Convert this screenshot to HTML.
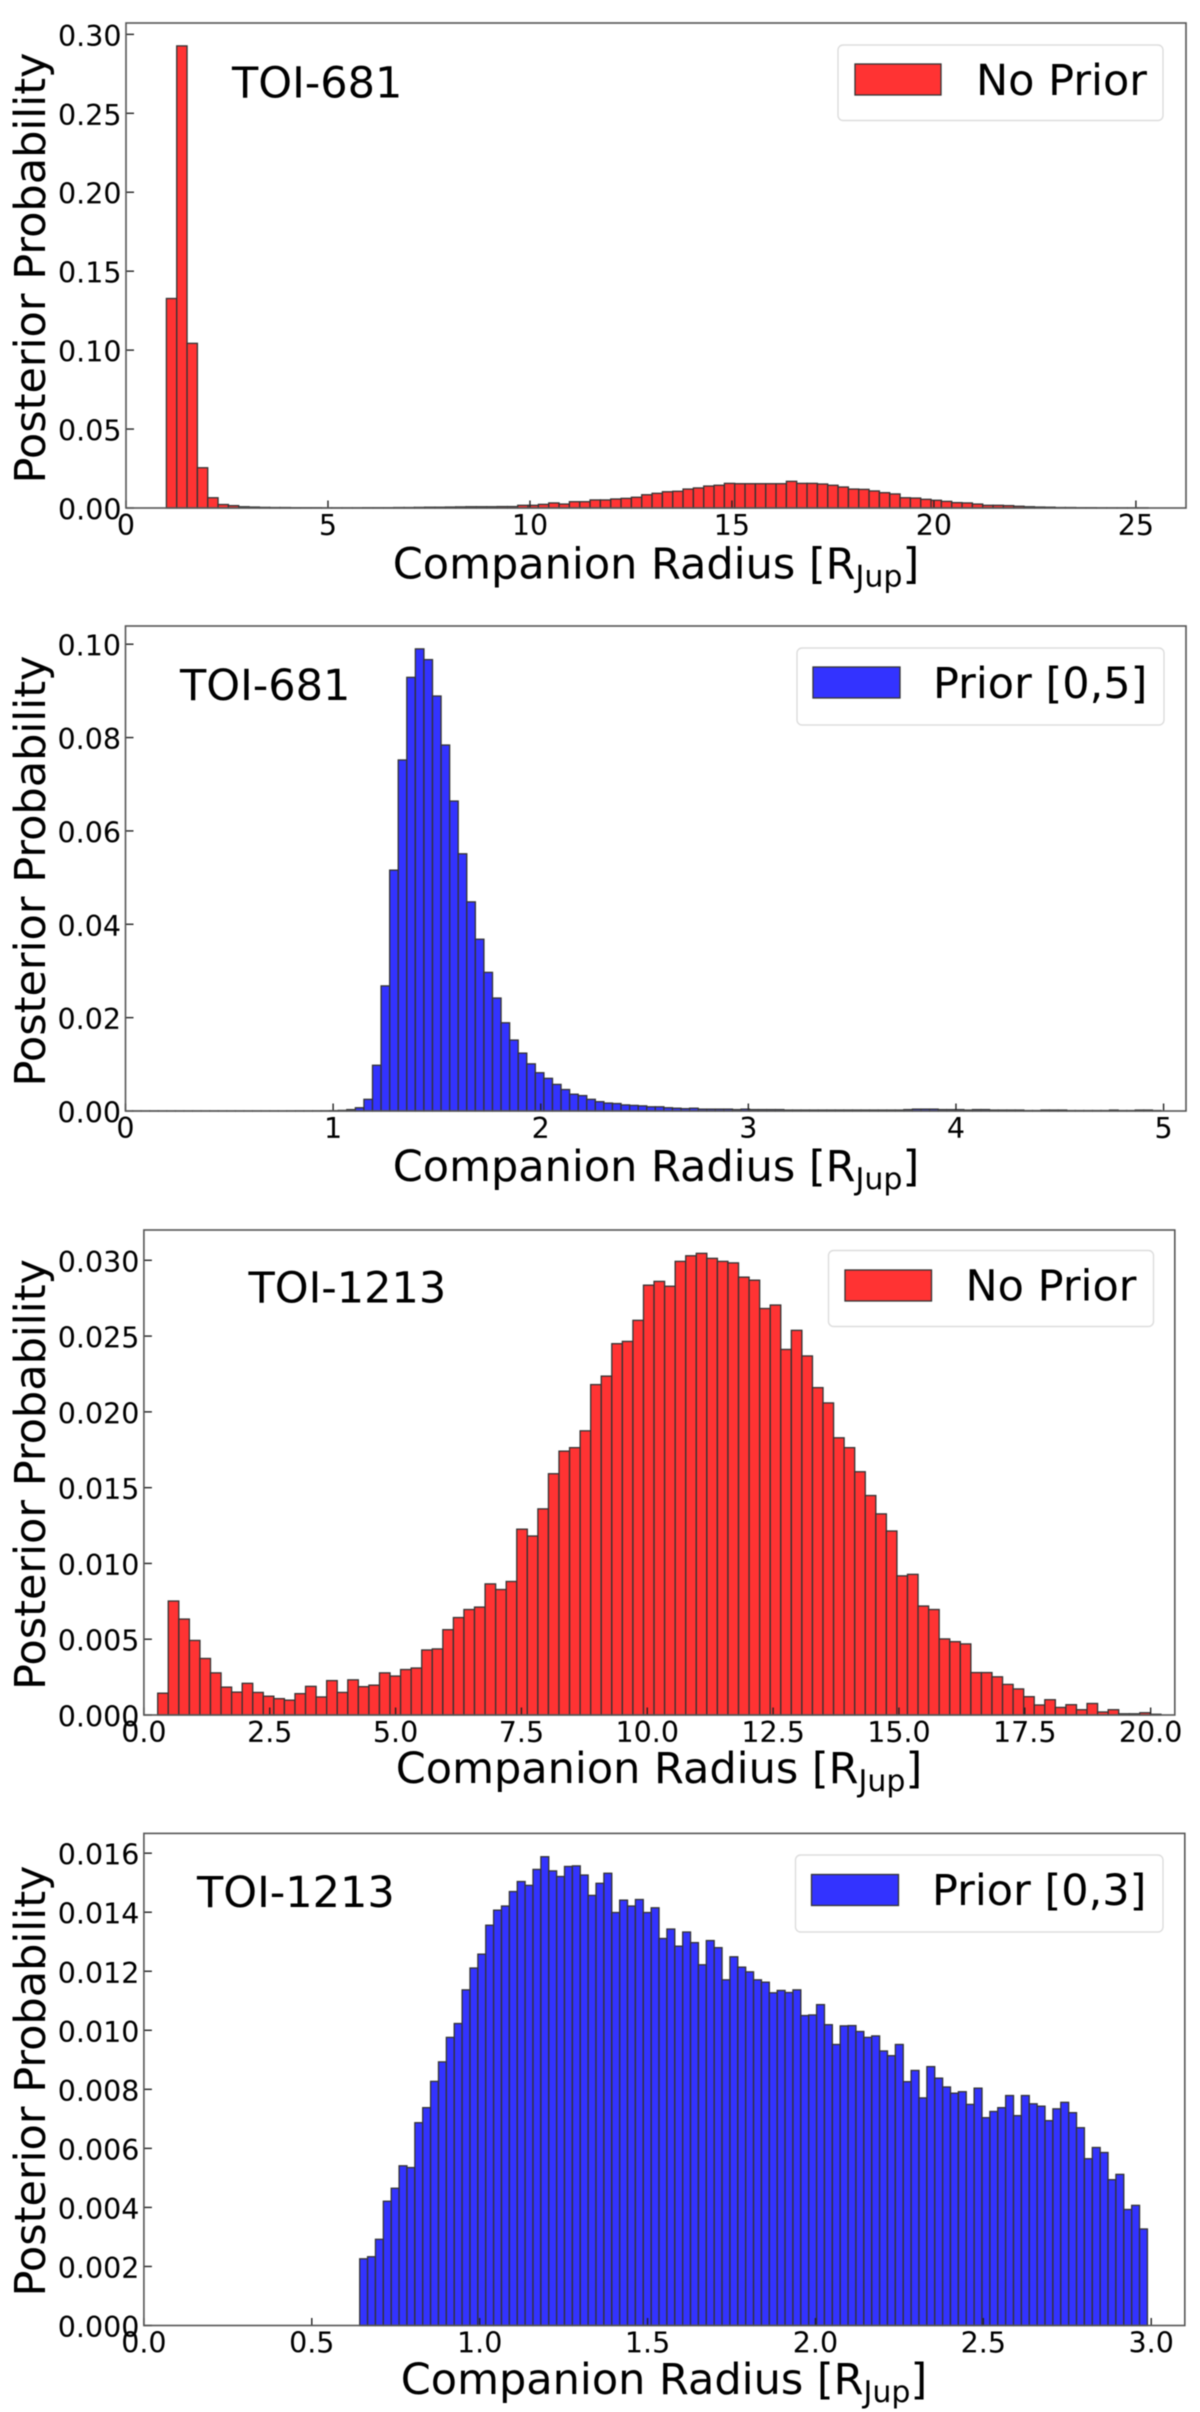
<!DOCTYPE html>
<html lang="en">
<head>
<meta charset="utf-8">
<title>Companion radius posterior probability histograms</title>
<style>
  html, body { margin: 0; padding: 0; background: #fff; }
  #figure { display: block; width: 1200px; height: 2412px; filter: blur(0.6px); }
  text { font-family: "DejaVu Sans", "Liberation Sans", sans-serif; fill: #000; }
  .tick-label { font-size: 28.5px; }
  .axis-title, .annotation, .legend-label { font-size: 43px; }
  .spine { fill: none; stroke: #555; stroke-width: 1.6; }
  .tick { stroke: #222; stroke-width: 1.4; }
  .legend-box { fill: #fff; fill-opacity: .8; stroke: #ddd; stroke-width: 1.4; }
  .legend-patch { stroke: #333; stroke-width: 1.3; }
</style>
</head>
<body>
<svg id="figure" xmlns="http://www.w3.org/2000/svg" width="1200" height="2412" viewBox="0 0 1200 2412">
  <rect width="1200" height="2412" fill="#fff"/>

  <g id="panel-1">
    <g class="marks"></g>
    <text class="annotation" x="232" y="97.5">TOI-681</text>
    <g>
      <rect class="legend-box" x="838" y="45" width="325" height="75.5" rx="5"/>
      <rect class="legend-patch" x="855" y="64" width="86" height="31" fill="#ff3333"/>
      <text class="legend-label" x="976" y="95">No Prior</text>
    </g>
    <text class="axis-title" x="656" y="578.5" text-anchor="middle">Companion Radius [R<tspan font-size="30" dy="8">Jup</tspan><tspan dy="-8">]</tspan></text>
    <text class="axis-title" transform="translate(45 268) rotate(-90)" text-anchor="middle">Posterior Probability</text>
  </g>

  <g id="panel-2">
    <g class="marks"></g>
    <text class="annotation" x="180" y="700">TOI-681</text>
    <g>
      <rect class="legend-box" x="797" y="648" width="367" height="77" rx="5"/>
      <rect class="legend-patch" x="813" y="667" width="87" height="31" fill="#3333ff"/>
      <text class="legend-label" x="933" y="698">Prior [0,5]</text>
    </g>
    <text class="axis-title" x="656" y="1181" text-anchor="middle">Companion Radius [R<tspan font-size="30" dy="8">Jup</tspan><tspan dy="-8">]</tspan></text>
    <text class="axis-title" transform="translate(45 871) rotate(-90)" text-anchor="middle">Posterior Probability</text>
  </g>

  <g id="panel-3">
    <g class="marks"></g>
    <text class="annotation" x="248.5" y="1302.5">TOI-1213</text>
    <g>
      <rect class="legend-box" x="828.5" y="1250.5" width="325" height="76" rx="5"/>
      <rect class="legend-patch" x="845" y="1270" width="86.5" height="31" fill="#ff3333"/>
      <text class="legend-label" x="965.5" y="1300.5">No Prior</text>
    </g>
    <text class="axis-title" x="659" y="1783" text-anchor="middle">Companion Radius [R<tspan font-size="30" dy="8">Jup</tspan><tspan dy="-8">]</tspan></text>
    <text class="axis-title" transform="translate(45 1474.5) rotate(-90)" text-anchor="middle">Posterior Probability</text>
  </g>

  <g id="panel-4">
    <g class="marks"></g>
    <text class="annotation" x="197" y="1907">TOI-1213</text>
    <g>
      <rect class="legend-box" x="795.5" y="1855" width="367.5" height="77" rx="5"/>
      <rect class="legend-patch" x="811.5" y="1874.5" width="87" height="31" fill="#3333ff"/>
      <text class="legend-label" x="932" y="1905">Prior [0,3]</text>
    </g>
    <text class="axis-title" x="664" y="2394" text-anchor="middle">Companion Radius [R<tspan font-size="30" dy="8">Jup</tspan><tspan dy="-8">]</tspan></text>
    <text class="axis-title" transform="translate(45 2081) rotate(-90)" text-anchor="middle">Posterior Probability</text>
  </g>
</svg>

<script>
// ---------- Data: panel 1 (TOI-681, no prior) ----------
const panel1BinStart = 1.0;
const panel1BinWidth = 0.2558;
const panel1Values = [
  .1327,.2927,.1043,.0255,.0065,.0022,.0015,.0008,.0006,.0004,
  .0003,.0003,.0002,.0002,.0002,.0001,.0001,.0001,.0001,.0002,.0002,.0002,
  .0003,.0003,.0004,.0005,.0005,.0006,.0007,.0008,.0008,.0008,.0009,.0009,
  .0017,.0017,.0023,.0032,.0025,.0040,.0040,.0051,.0051,.0057,.0061,.0068,
  .0084,.0093,.0103,.0106,.0120,.0127,.0139,.0144,.0156,.0154,.0154,.0154,.0154,.0154,
  .0169,.0156,.0156,.0152,.0144,.0133,.0120,.0118,.0108,.0097,.0089,.0065,.0063,.0055,
  .0049,.0042,.0034,.0032,.0025,.0017,.0017,.0015,.0011,.0008,.0006,.0005,.0003,.0003,
  .0002,.0002,.0001,.0001,.0001,.0001,.0001
];
const panel1XTicks = ['0','5','10','15','20','25'];
const panel1YTicks = ['0.00','0.05','0.10','0.15','0.20','0.25','0.30'];

// ---------- Data: panel 2 (TOI-681, prior [0,5]) ----------
const panel2BinStart = 0.0339;
const panel2BinWidth = 0.04128;
const panel2Values = [
  .00001,.00001,.00001,.00001,.00001,.00001,.00001,.00001,.00001,
  .00001,.00001,.00001,.00001,.00001,.00001,.00001,.00001,.00001,
  .00002,.00003,.00003,.00004,.00005,.00008,.00013,.0003,.0007,
  .0025,.0098,.0268,.0516,.0752,.0929,.0990,.0967,.0889,.0784,.0664,.0551,.0448,.0368,
  .0297,.0242,.0189,.0152,.0124,.0101,.0082,.0070,.0057,.0046,.0036,.0033,.0025,.0020,
  .0017,.0016,.0013,.0012,.0011,.0009,.0009,.0007,.0006,.0005,.0006,.0004,
  .0004,.0004,.0004,.0003,.0004,.0003,.0003,.0003,.0003,.0002,
  .0002,.0002,.0002,.0002,.0002,.0002,.0002,.0002,.0002,.0002,
  .0002,.0002,.0002,.0003,.0004,.0004,.0004,.0003,.0003,.0003,.0002,
  .0003,.0003,.0002,.0002,.0002,.0002,.0001,.0001,.0002,.0002,.0002,
  .0001,.0001,.0001,.0001,.0001,.0002,.0001,.0001,.0002,.0002,.0001
];
const panel2XTicks = ['0','1','2','3','4','5'];
const panel2YTicks = ['0.00','0.02','0.04','0.06','0.08','0.10'];

// ---------- Data: panel 3 (TOI-1213, no prior) ----------
const panel3BinStart = 0.274;
const panel3BinWidth = 0.2098;
const panel3Values = [
  .00144,.00752,.00633,.00492,.00373,.00278,.00184,.00151,.00209,.00149,
  .00124,.00108,.00098,.00141,.00189,.00119,.00227,.00149,.00232,.00187,
  .00197,.00278,.00257,.00300,.00310,.00429,.00436,.00563,.00643,.00696,
  .00712,.00865,.00828,.00881,.01226,.01181,.01360,.01592,.01741,.01764,
  .01875,.02180,.02236,.02450,.02465,.02604,.02836,.02861,.02829,.02993,
  .03030,.03046,.03013,.02993,.02983,.02889,.02869,.02682,.02705,.02412,
  .02538,.02369,.02160,.02059,.01829,.01764,.01605,.01448,.01327,.01214,
  .00918,.00928,.00719,.00696,.00502,.00484,.00469,.00280,.00280,.00252,
  .00202,.00172,.00121,.00066,.00101,.00050,.00068,.00035,.00076,.00020,
  .00035,.00008,.00008,.00015,.00005
];
const panel3XTicks = ['0.0','2.5','5.0','7.5','10.0','12.5','15.0','17.5','20.0'];
const panel3YTicks = ['0.000','0.005','0.010','0.015','0.020','0.025','0.030'];

// ---------- Data: panel 4 (TOI-1213, prior [0,3]) ----------
const panel4BinStart = 0.6427;
const panel4BinWidth = 0.02346;
const panel4Values = [
  .00226,.00233,.00292,.00421,.00465,.00541,.00535,.00687,.00738,.00827,
  .00893,.00976,.01023,.01137,.01211,.01258,.01356,.01407,.01421,.01470,
  .01504,.01491,.01545,.01588,.01540,.01521,.01555,.01557,.01526,.01457,
  .01498,.01532,.01399,.01441,.01421,.01443,.01399,.01415,.01311,.01343,
  .01285,.01333,.01297,.01222,.01304,.01280,.01171,.01249,.01214,.01198,
  .01171,.01163,.01127,.01135,.01128,.01137,.01050,.01052,.01087,.01019,
  .00952,.01015,.01016,.00996,.00976,.00981,.00930,.00914,.00952,.00826,
  .00864,.00771,.00877,.00838,.00808,.00787,.00792,.00749,.00804,.00704,
  .00725,.00738,.00779,.00711,.00779,.00751,.00743,.00694,.00734,.00756,
  .00721,.00670,.00565,.00603,.00586,.00494,.00512,.00393,.00407,.00327
];
const panel4XTicks = ['0.0','0.5','1.0','1.5','2.0','2.5','3.0'];
const panel4YTicks = ['0.000','0.002','0.004','0.006','0.008','0.010','0.012','0.014','0.016'];

// ---------- Rendering ----------
const SVG_NS = 'http://www.w3.org/2000/svg';

function svgEl(tag, attrs) {
  const el = document.createElementNS(SVG_NS, tag);
  for (const key in attrs) el.setAttribute(key, attrs[key]);
  return el;
}

function drawPanel(id, box, xMax, yMax, binStart, binWidth, values, xTicks, yTicks, fill) {
  const group = document.querySelector('#' + id + ' .marks');
  const xScale = v => box.left + (v / xMax) * (box.right - box.left);
  const yScale = v => box.bottom - (v / yMax) * (box.bottom - box.top);

  values.forEach((value, i) => {
    const x0 = xScale(binStart + i * binWidth);
    const x1 = xScale(binStart + (i + 1) * binWidth);
    const bar = svgEl('rect', {
      x: x0, y: yScale(value), width: x1 - x0, height: yScale(0) - yScale(value),
      fill: fill, stroke: '#333', 'stroke-width': 1.3
    });
    
    
    group.appendChild(bar);
  });

  xTicks.forEach(label => {
    const x = xScale(Number(label));
    const tick = svgEl('line', { class: 'tick', x1: x, x2: x, y1: box.bottom, y2: box.bottom - 7.5 });
    
    
    group.appendChild(tick);
    const text = svgEl('text', { class: 'tick-label', x: x, y: box.bottom + 27, 'text-anchor': 'middle' });
    text.textContent = label;
    
    
    group.appendChild(text);
  });

  yTicks.forEach(label => {
    const y = yScale(Number(label));
    const tick = svgEl('line', { class: 'tick', x1: box.left, x2: box.left + 8, y1: y, y2: y });
    
    
    group.appendChild(tick);
    const text = svgEl('text', { class: 'tick-label', x: box.left - 4.5, y: y + 11.5, 'text-anchor': 'end' });
    text.textContent = label;
    
    
    group.appendChild(text);
  });

  const frame = svgEl('rect', {
    class: 'spine', x: box.left, y: box.top,
    width: box.right - box.left, height: box.bottom - box.top
  });
  
  
  group.appendChild(frame);
}

drawPanel('panel-1', { left: 126, right: 1186, top: 23, bottom: 508 }, 26.24, 0.3072,
  panel1BinStart, panel1BinWidth, panel1Values, panel1XTicks, panel1YTicks, '#ff3333');
drawPanel('panel-2', { left: 125.5, right: 1186, top: 626, bottom: 1111 }, 5.108, 0.1039,
  panel2BinStart, panel2BinWidth, panel2Values, panel2XTicks, panel2YTicks, '#3333ff');
drawPanel('panel-3', { left: 143.9, right: 1174.8, top: 1230, bottom: 1715 }, 20.48, 0.032,
  panel3BinStart, panel3BinWidth, panel3Values, panel3XTicks, panel3YTicks, '#ff3333');
drawPanel('panel-4', { left: 143.9, right: 1184.8, top: 1833.4, bottom: 2325.5 }, 3.1, 0.01667,
  panel4BinStart, panel4BinWidth, panel4Values, panel4XTicks, panel4YTicks, '#3333ff');
</script>
</body>
</html>
